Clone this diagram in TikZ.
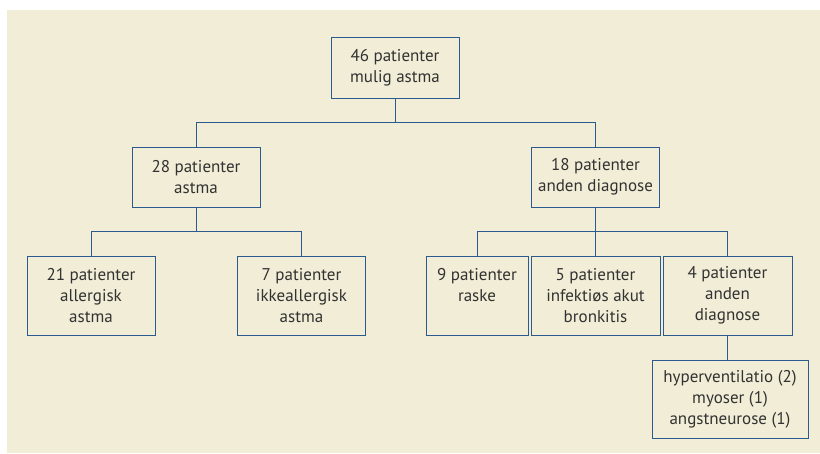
\documentclass[tikz,border=0pt]{standalone}
\usepackage{fontspec}
\setmainfont{PT Sans}
\definecolor{bgc}{RGB}{241,237,214}
\definecolor{boxc}{RGB}{43,90,142}
\definecolor{txtc}{RGB}{50,50,50}
\begin{document}
\begin{tikzpicture}[x=1pt,y=-1pt,
  box/.style={draw=boxc, line width=0.9pt, fill=bgc, text=txtc, align=center,
    inner sep=0pt, font=\fontsize{17}{21}\selectfont},
  conn/.style={draw=boxc, line width=0.9pt}]
\useasboundingbox (0,0) rectangle (820,453);
\fill[bgc] (7,10) rectangle (820,453);
\node[box, minimum width=128, minimum height=61] (top) at (395,67.5) {46 patienter\\mulig astma};
\node[box, minimum width=128, minimum height=60] (n28) at (196,177) {28 patienter\\astma};
\node[box, minimum width=128, minimum height=60] (n18) at (595.5,177) {18 patienter\\anden diagnose};
\node[box, minimum width=128, minimum height=79] (n21) at (91,295.5) {21 patienter\\allergisk\\astma};
\node[box, minimum width=128, minimum height=79] (n7) at (301.5,295.5) {7 patienter\\ikkeallergisk\\astma};
\node[box, minimum width=102, minimum height=79] (n9) at (477,295.5) {9 patienter\\raske\\\mbox{}};
\node[box, minimum width=129, minimum height=79] (n5) at (595.5,295.5) {5 patienter\\infektiøs akut\\bronkitis};
\node[box, minimum width=129, minimum height=79] (n4) at (727.5,295.5) {4 patienter\\anden\\diagnose};
\node[box, minimum width=156, minimum height=78] (nd) at (730,399) {hyperventilatio (2)\\myoser (1)\\angstneurose (1)};
\coordinate (j1) at (395,122.5);
\coordinate (j2) at (196,231.7);
\coordinate (j3) at (595.5,231.7);
\draw[conn] (top.south) -- (j1);
\draw[conn] (n28.north) |- (j1) -| (n18.north);
\draw[conn] (n28.south) -- (j2);
\draw[conn] (n21.north) |- (j2) -| (n7.north);
\draw[conn] (n18.south) -- (n18.south |- n5.north);
\draw[conn] (n9.north) |- (j3) -| (n4.north);
\draw[conn] (n4.south) -- (n4.south |- nd.north);
\end{tikzpicture}
\end{document}
